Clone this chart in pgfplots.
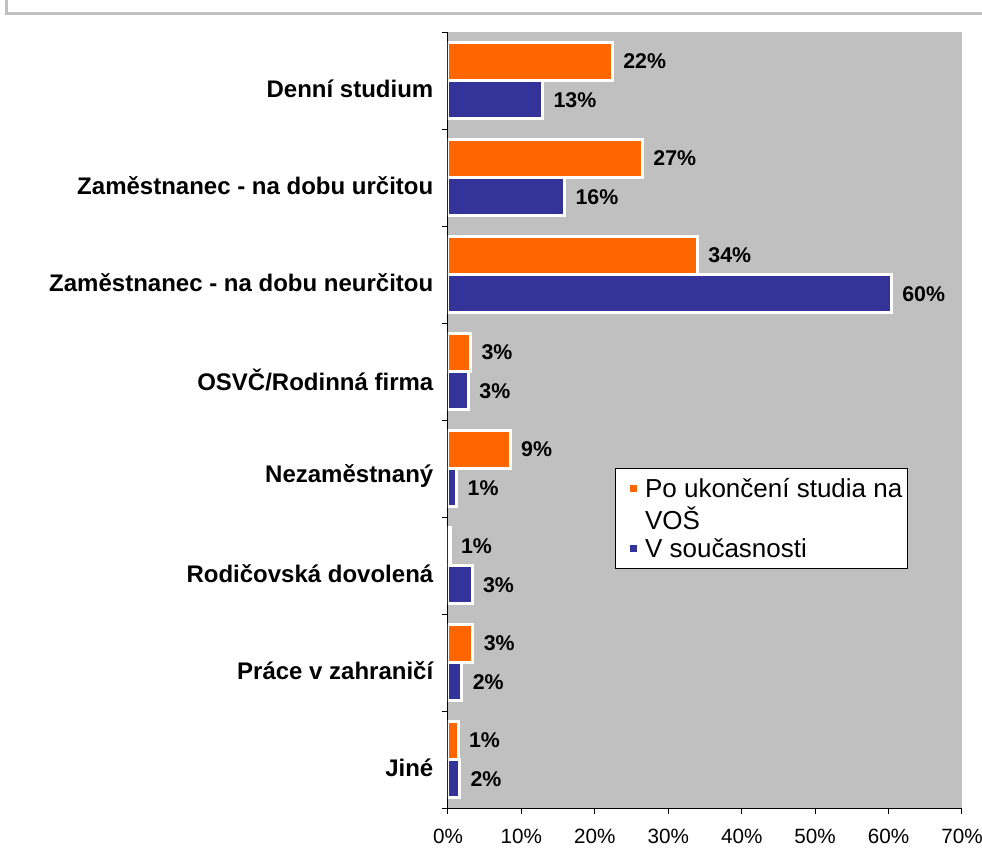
\documentclass[border=0pt]{standalone}
\usepackage{fontspec}
\setmainfont{Liberation Sans}
\usepackage{pgfplots}
\usepackage{pgfplotstable}
\pgfplotsset{compat=1.18}
\definecolor{vosorange}{HTML}{FF6600}
\definecolor{vosblue}{HTML}{333399}
\definecolor{plotgrey}{HTML}{C0C0C0}

\pgfplotstableread{
y x lab
0 22.4 22
1 26.5 27
2 34.0 34
3 3.1 3
4 8.5 9
5 0.3 1
6 3.4 3
7 1.4 1
}\orangedata
\pgfplotstableread{
y x lab
0 12.9 13
1 15.9 16
2 60.4 60
3 2.8 3
4 1.2 1
5 3.3 3
6 1.9 2
7 1.6 2
}\bluedata

\begin{document}
\begin{tikzpicture}
\useasboundingbox (0pt,0pt) rectangle (736.5pt,642pt);
\draw[plotgrey, line width=2.25pt] (4.9pt,642pt) -- (4.9pt,631.5pt) -- (736.5pt,631.5pt);
\begin{axis}[
  at={(336pt,36pt)}, anchor=south west,
  scale only axis, width=385.5pt, height=582pt,
  xbar,
  xmin=0, xmax=70, ymin=-0.5, ymax=7.5, y dir=reverse,
  axis x line*=bottom, axis y line*=left,
  axis line style={line width=0.75pt},
  axis background/.style={fill=plotgrey},
  tick align=outside, major tick length=4.5pt,
  tick style={black, line width=0.75pt},
  xtick={0,10,...,70},
  /pgf/number format/assume math mode=true,
  xticklabel={\pgfmathprintnumber{\tick}\%},
  xticklabel style={font=\fontsize{15.5}{15.5}\selectfont, yshift=-8pt},
  ytick={-0.5,0.5,...,7.5},
  y tick label as interval,
  yticklabels={Denní studium, Zaměstnanec - na dobu určitou, Zaměstnanec - na dobu neurčitou, OSVČ/Rodinná firma, Nezaměstnaný, Rodičovská dovolená, Práce v zahraničí, Jiné},
  yticklabel style={font=\bfseries\fontsize{18}{18}\selectfont, anchor=east, yshift=-6pt, xshift=-3pt},
  point meta=explicit symbolic,
  nodes near coords={\pgfplotspointmeta\%},
  nodes near coords style={font=\bfseries\fontsize{16}{16}\selectfont, anchor=west, inner sep=0pt, xshift=7pt, black},
  legend image code/.code={\fill[#1] (9.5pt,-3.75pt) rectangle (17pt,3.75pt);},
  legend style={at={(rel axis cs:0.325,0.438)}, anchor=north west, draw=black, line width=0.75pt, fill=white,
    font=\fontsize{19.5}{19.5}\selectfont, cells={anchor=west}, row sep=1.5pt, inner xsep=0pt, inner ysep=5pt,
    nodes={inner xsep=4pt}},
]
\addplot[fill=vosorange, draw=white, line width=2.25pt, bar width=0.39, bar shift=-0.2] table[x=x,y=y,meta=lab]{\orangedata};
\addlegendentry{Po ukončení studia na}
\addlegendimage{empty legend}
\addlegendentry{VOŠ}
\addplot[fill=vosblue, draw=white, line width=2.25pt, bar width=0.39, bar shift=0.2] table[x=x,y=y,meta=lab]{\bluedata};
\addlegendentry{V současnosti}
\end{axis}
\end{tikzpicture}
\end{document}
